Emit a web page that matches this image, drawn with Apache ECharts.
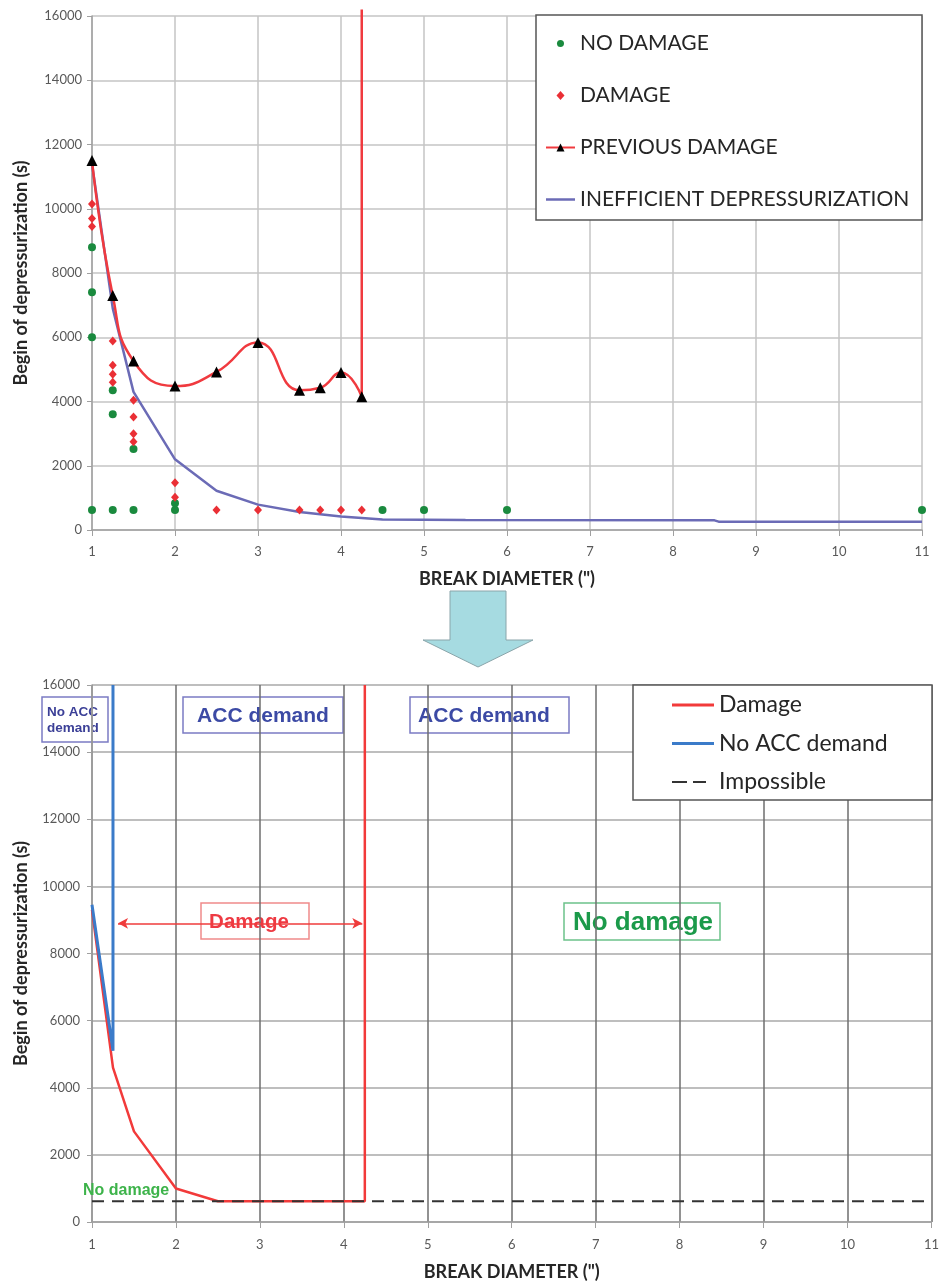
<!DOCTYPE html>
<html>
<head>
<meta charset="utf-8">
<script src="https://cdn.jsdelivr.net/npm/echarts@6/dist/echarts.min.js"></script>
<style>
html, body { margin: 0; padding: 0; background: #fff; }
#chart { width: 942px; height: 1284px; }
</style>
</head>
<body>
<div id="chart"></div>
<script>
// ---------- top chart: test results ----------
var noDamage = [[1, 8800], [1, 7400], [1, 6000], [1, 620], [1.25, 4350], [1.25, 3600], [1.25, 620],
	[1.5, 2520], [1.5, 620], [2, 830], [2, 620], [4.5, 620], [5, 620], [6, 620], [11, 620]];
var damage = [[1, 10150], [1, 9700], [1, 9450], [1.25, 5880], [1.25, 5130], [1.25, 4850], [1.25, 4600],
	[1.5, 4040], [1.5, 3520], [1.5, 3000], [1.5, 2750], [2, 1470], [2, 1020],
	[2.5, 620], [3, 620], [3.5, 620], [3.75, 620], [4, 620], [4.25, 620]];
var previousDamage = [[1, 11500], [1.25, 7300], [1.5, 5260], [2, 4480], [2.5, 4920], [3, 5840],
	[3.5, 4350], [3.75, 4430], [4, 4900], [4.25, 4150]];
var previousDamageCut = [[4.25, 4150], [4.25, 16200]];
var inefficient = [[1, 11400], [1.25, 6900], [1.5, 4300], [2, 2200], [2.5, 1220], [3, 790], [3.5, 560],
	[4, 420], [4.5, 330], [5.5, 310], [8.5, 300], [8.55, 260], [11, 260]];

// ---------- bottom chart: regions ----------
var damageLimit = [[1, 9300], [1.25, 4600], [1.5, 2700], [2, 1000], [2.5, 620], [4.25, 620], [4.25, 16000]];
var noAccLimit = [[1, 9450], [1.25, 5100], [1.25, 16000]];
var impossible = [[1, 620], [11, 620]];
var damageArrow = [[1.31, 8900], [4.22, 8900]];

var xMin = 1, xMax = 11, xStep = 1;
var yMin = 0, yMax = 16000, yStep = 2000;

var tickFont = 'Lato';
var chart = echarts.init(document.getElementById('chart'));

function xAxisOf(idx, splitColor, margin, gap) {
	return {
		gridIndex : idx, type : 'value', min : xMin, max : xMax, interval : xStep,
		name : 'BREAK DIAMETER (")', nameLocation : 'middle', nameGap : gap,
		nameTextStyle : { fontFamily : tickFont, fontWeight : 'bold', fontSize : 18, color : '#262626' },
		axisLine : { show : true, lineStyle : { color : '#a0a0a0', width : 1.5 } },
		axisTick : { show : true, length : 6, lineStyle : { color : '#a0a0a0' } },
		axisLabel : { margin : margin, fontFamily : tickFont, fontSize : 13, color : '#595959' },
		splitLine : { show : true, lineStyle : { color : splitColor, width : 1.5 } }
	};
}
function yAxisOf(idx, splitColor, margin) {
	return {
		gridIndex : idx, type : 'value', min : yMin, max : yMax, interval : yStep,
		name : 'Begin of depressurization (s)', nameLocation : 'middle', nameGap : 62,
		nameTextStyle : { fontFamily : tickFont, fontWeight : 'bold', fontSize : 18, color : '#262626' },
		axisLine : { show : true, lineStyle : { color : '#a0a0a0', width : 1.5 } },
		axisTick : { show : true, length : 5, lineStyle : { color : '#a0a0a0' } },
		axisLabel : { margin : margin, fontFamily : tickFont, fontSize : 13, color : '#595959',
			formatter : function(v) { return String(v); } },
		splitLine : { show : true, lineStyle : { color : splitColor, width : 1.5 } }
	};
}

// annotation box: white rect with bold text
function labelBox(x, y, w, h, tx, text, size, color, border) {
	return {
		type : 'group', z : 20,
		children : [{
			type : 'rect', shape : { x : x, y : y, width : w, height : h },
			style : { fill : '#fff', stroke : border, lineWidth : 1.5 }
		}, {
			type : 'text', x : tx, y : y + h / 2 + 1,
			style : { text : text, font : 'bold ' + size + 'px "Liberation Sans"', fill : color,
				align : 'center', verticalAlign : 'middle' }
		}]
	};
}

var dotIcon = 'path://M0,0M29,10M14.5,1.5A3.5,3.5,0,1,1,14.49,1.5Z';
var diamondIcon = 'path://M0,0M29,10M14.5,0.5L18.5,5L14.5,9.5L10.5,5Z';
var barIconTop = 'path://M0,0M29,10M0,3.75H29V6.25H0Z';
var barIcon = 'path://M0,0M42,10M0,3.5H42V6.5H0Z';
var dashIcon = 'path://M0,0M42,10M0,4H15V6H0ZM21,4H34V6H21Z';

var option = {
	animation : false,
	backgroundColor : '#fff',
	grid : [
		{ left : 92, top : 16, width : 830, height : 514 },
		{ left : 92, top : 685, width : 840, height : 537 }
	],
	xAxis : [xAxisOf(0, '#c4c4c4', 15, 40), xAxisOf(1, '#6e6e6e', 16, 41)],
	yAxis : [yAxisOf(0, '#c4c4c4', 10), yAxisOf(1, '#a8a8a8', 12)],
	legend : [{
		orient : 'vertical', left : 545, top : 33, padding : 0, z : 10,
		itemWidth : 29, itemHeight : 10, itemGap : 31, selectedMode : false,
		textStyle : { fontFamily : tickFont, fontSize : 21, color : '#262626', lineHeight : 20 },
		data : [
			{ name : 'NO DAMAGE', icon : dotIcon },
			{ name : 'DAMAGE', icon : diamondIcon },
			{ name : 'PREVIOUS DAMAGE' },
			{ name : 'INEFFICIENT DEPRESSURIZATION', icon : barIconTop }
		]
	}, {
		orient : 'vertical', left : 672, top : 693, padding : 0, z : 10,
		itemWidth : 42, itemHeight : 10, itemGap : 14.5, selectedMode : false,
		textStyle : { fontFamily : tickFont, fontSize : 23, color : '#262626', lineHeight : 24 },
		data : [
			{ name : 'Damage', icon : barIcon },
			{ name : 'No ACC demand', icon : barIcon },
			{ name : 'Impossible', icon : dashIcon }
		]
	}],
	graphic : [
		// legend frames
		{ type : 'rect', z : 5, shape : { x : 536, y : 15, width : 386, height : 205 },
			style : { fill : '#fff', stroke : '#555', lineWidth : 1.5 } },
		{ type : 'rect', z : 5, shape : { x : 633, y : 685, width : 299, height : 115 },
			style : { fill : '#fff', stroke : '#555', lineWidth : 1.5 } },
		// arrow between the two charts
		{ type : 'polygon', z : 5,
			shape : { points : [[450, 591], [506, 591], [506, 640], [533, 640], [478, 667], [423, 640], [450, 640]] },
			style : { fill : '#a6dbe1', stroke : '#8aa5aa', lineWidth : 1 } },
		// region labels
		{ type : 'group', z : 20, children : [{
			type : 'rect', shape : { x : 42, y : 697, width : 66, height : 45 },
			style : { fill : '#fff', stroke : '#7b7bc4', lineWidth : 1.5 }
		}, {
			type : 'text', x : 47, y : 720,
			style : { text : 'No ACC\ndemand', font : 'bold 13.5px "Liberation Sans"', fill : '#3b3f97',
				lineHeight : 16, align : 'left', verticalAlign : 'middle' }
		}] },
		labelBox(183, 697, 160, 36, 263, 'ACC demand', 21, '#3c4aa5', '#7b7bc4'),
		labelBox(410, 697, 159, 36, 484, 'ACC demand', 21, '#3c4aa5', '#7b7bc4'),
		labelBox(201, 903, 108, 36, 249, 'Damage', 20.5, '#ee3a43', '#f08a8a'),
		labelBox(564, 903, 156, 37, 643, 'No damage', 26, '#1b9a4a', '#6cc28a'),
		{ type : 'text', z : 20, x : 83, y : 1191,
			style : { text : 'No damage', font : 'bold 16px "Liberation Sans"', fill : '#3db34a',
				align : 'left', verticalAlign : 'middle' } }
	],
	series : [{
		name : 'PREVIOUS DAMAGE', type : 'line', xAxisIndex : 0, yAxisIndex : 0,
		data : previousDamage, smooth : true, symbol : 'triangle', symbolSize : 11,
		itemStyle : { color : '#000' }, lineStyle : { color : '#f03a3f', width : 2.5 }, z : 3
	}, {
		name : 'PREVIOUS DAMAGE', type : 'line', xAxisIndex : 0, yAxisIndex : 0,
		data : previousDamageCut, symbol : 'none', clip : false,
		itemStyle : { color : '#000' }, lineStyle : { color : '#f03a3f', width : 2.5 }, z : 3
	}, {
		name : 'INEFFICIENT DEPRESSURIZATION', type : 'line', xAxisIndex : 0, yAxisIndex : 0,
		data : inefficient, symbol : 'none',
		itemStyle : { color : '#6b6bb6' }, lineStyle : { color : '#6b6bb6', width : 2.5 }, z : 2
	}, {
		name : 'NO DAMAGE', type : 'scatter', xAxisIndex : 0, yAxisIndex : 0,
		data : noDamage, symbol : 'circle', symbolSize : 8,
		itemStyle : { color : '#1a8a3e', opacity : 1 }, z : 4
	}, {
		name : 'DAMAGE', type : 'scatter', xAxisIndex : 0, yAxisIndex : 0,
		data : damage, symbol : 'diamond', symbolSize : [8, 9],
		itemStyle : { color : '#ea2f35', opacity : 1 }, z : 4
	}, {
		name : 'Damage', type : 'line', xAxisIndex : 1, yAxisIndex : 1,
		data : damageLimit, symbol : 'none',
		itemStyle : { color : '#f23a3a' }, lineStyle : { color : '#f23a3a', width : 2.5 }, z : 2,
		markLine : {
			silent : true, symbol : ['arrow', 'arrow'], symbolSize : [8, 10],
			label : { show : false },
			lineStyle : { color : '#ef3b3b', width : 1.5, type : 'solid' },
			data : [[{ coord : damageArrow[0] }, { coord : damageArrow[1] }]]
		}
	}, {
		name : 'No ACC demand', type : 'line', xAxisIndex : 1, yAxisIndex : 1,
		data : noAccLimit, symbol : 'none',
		itemStyle : { color : '#3b7bc9' }, lineStyle : { color : '#3b7bc9', width : 3 }, z : 3
	}, {
		name : 'Impossible', type : 'line', xAxisIndex : 1, yAxisIndex : 1,
		data : impossible, symbol : 'none',
		itemStyle : { color : '#333' }, lineStyle : { color : '#333', width : 2, type : [12, 8] }, z : 4
	}]
};
chart.setOption(option);
</script>
</body>
</html>
